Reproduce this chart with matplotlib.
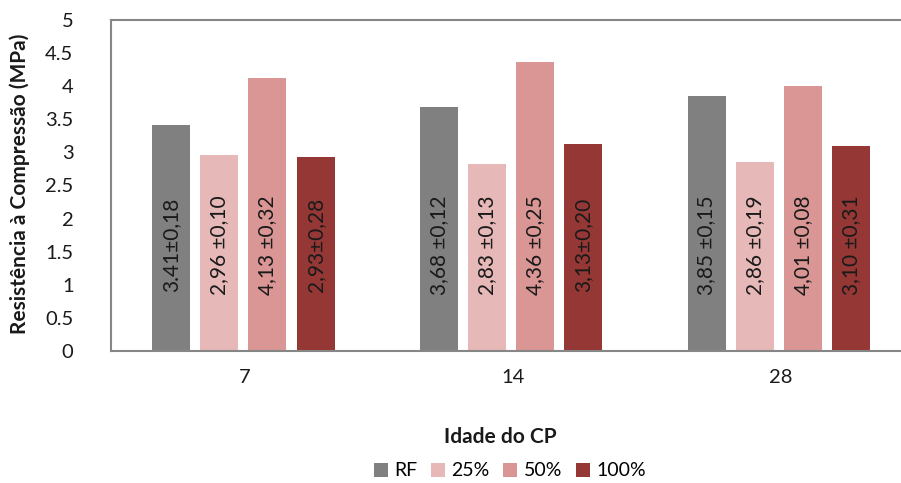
import numpy as np
import matplotlib.pyplot as plt

plt.rcParams['font.family'] = ['Lato', 'DejaVu Sans']

# Data
idades = ['7', '14', '28']
series = ['RF', '25%', '50%', '100%']
valores = [
    [3.41, 3.68, 3.85],   # RF
    [2.96, 2.83, 2.86],   # 25%
    [4.13, 4.36, 4.01],   # 50%
    [2.93, 3.13, 3.10],   # 100%
]
rotulos = [
    ['3.41\u00b10,18', '3,68 \u00b10,12', '3,85 \u00b10,15'],
    ['2,96 \u00b10,10', '2,83 \u00b10,13', '2,86 \u00b10,19'],
    ['4,13 \u00b10,32', '4,36 \u00b10,25', '4,01 \u00b10,08'],
    ['2,93\u00b10,28', '3,13\u00b10,20', '3,10 \u00b10,31'],
]
cores = ['#808080', '#E6B9B8', '#D99694', '#953735']

fig = plt.figure(figsize=(9.01, 4.83), dpi=100)
ax = fig.add_axes([111 / 901, 1 - 351 / 483, 790 / 901, 331 / 483])

x = np.arange(len(idades))
largura = 0.142
passo = 0.18
for i, (nome, vals) in enumerate(zip(series, valores)):
    pos = x + (i - 1.5) * passo - 0.006
    ax.bar(pos, vals, largura, color=cores[i], label=nome, zorder=2)
    for p, r in zip(pos, rotulos[i]):
        ax.text(p, 1.6, r, rotation=90, ha='center', va='center',
                fontsize=15, color='#1a1a1a', zorder=3)

ax.set_xlim(-0.5, 2.45)
ax.set_ylim(0, 5)
ax.set_yticks(np.arange(0, 5.01, 0.5))
ax.set_yticklabels(['0', '0.5', '1', '1.5', '2', '2.5', '3', '3.5', '4', '4.5', '5'])
ax.set_xticks(x)
ax.set_xticklabels(idades)
ax.tick_params(axis='both', length=0, labelsize=14.5, colors='#1a1a1a')
ax.tick_params(axis='y', pad=27)
ax.tick_params(axis='x', pad=13)

for s in ['left', 'top', 'bottom']:
    ax.spines[s].set_color('#868686')
    ax.spines[s].set_linewidth(1.5)
ax.spines['right'].set_visible(False)

fig.text(20 / 901, 1 - 183.5 / 483, 'Resistência à Compressão (MPa)', rotation=90,
         ha='center', va='center', fontsize=15, fontweight='bold', color='#1a1a1a')
fig.text(500 / 901, 1 - 437 / 483, 'Idade do CP', ha='center', va='center',
         fontsize=15, fontweight='bold', color='#1a1a1a')

fig.legend(loc='center', bbox_to_anchor=(510 / 901, 1 - 471 / 483), ncol=4,
           frameon=False, fontsize=14, handlelength=0.7, handleheight=0.7,
           handletextpad=0.35, columnspacing=0.7)

fig.savefig('out.png', dpi=100)
